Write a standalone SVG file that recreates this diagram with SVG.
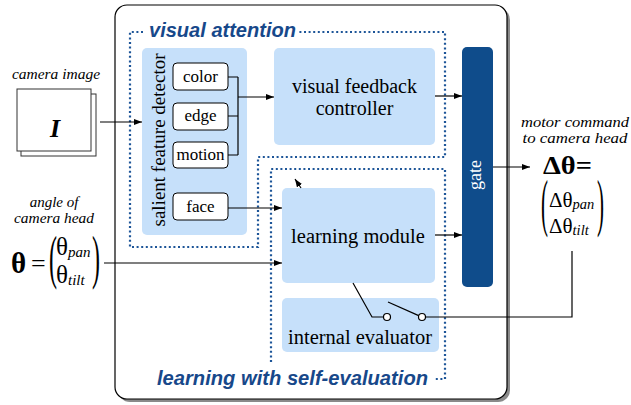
<svg xmlns="http://www.w3.org/2000/svg" width="631" height="405" viewBox="0 0 631 405">
<defs>
<marker id="arr" markerUnits="userSpaceOnUse" markerWidth="9" markerHeight="7" refX="8" refY="3" orient="auto">
<path d="M0,0 L8,3 L0,6 z" fill="#000"/>
</marker>
<style>
.serif{font-family:"Liberation Serif","Times New Roman",serif;fill:#000}
.it{font-style:italic}
.blk{fill:#c6e0fa}
.small{fill:#fff;stroke:#000;stroke-width:1}
.dot{fill:none;stroke:#1d5598;stroke-width:2.2;stroke-dasharray:2 2.6}
.title{font-family:"Liberation Sans",Arial,sans-serif;font-weight:bold;font-style:italic;fill:#17488a;font-size:20px}
.wire{fill:none;stroke:#000;stroke-width:1.2}
</style>
</defs>
<rect x="118" y="8" width="392" height="394" rx="12" fill="#8a8a8a"/>
<rect x="115" y="5" width="392" height="394" rx="12" fill="#fff" stroke="#000" stroke-width="1.2"/>

<g id="visual-attention">
<path class="dot" d="M143 32 H130 V247 H258 V157 H445 V32 H299"/>
<text class="title" x="149" y="37" textLength="147" lengthAdjust="spacingAndGlyphs">visual attention</text>
</g>
<g id="learning-self-eval">
<path class="dot" d="M271 362 V169 H445 V379 H434"/>
<text class="title" x="157" y="385" textLength="271" lengthAdjust="spacingAndGlyphs">learning with self-evaluation</text>
</g>

<g id="camera-image">
<text class="serif it" x="56" y="79" font-size="15.5" text-anchor="middle">camera image</text>
<rect x="21" y="94" width="75" height="62" fill="#fff" stroke="#333" stroke-width="1"/>
<rect x="17" y="89" width="74" height="62" fill="#fff" stroke="#333" stroke-width="1"/>
<text class="serif" x="55" y="137" font-size="26" font-weight="bold" font-style="italic" text-anchor="middle">I</text>
</g>

<g id="angle">
<text class="serif it" x="54" y="207" font-size="15" text-anchor="middle">angle of</text>
<text class="serif it" x="54" y="223" font-size="15" text-anchor="middle" textLength="80" lengthAdjust="spacingAndGlyphs">camera head</text>
<text class="serif" x="11" y="273" font-size="29" font-weight="bold">θ</text>
<text class="serif" x="31" y="272" font-size="26">=</text>
<text class="serif" transform="translate(49,276.5) scale(1,2.5)" font-size="24">(</text>
<text class="serif" x="56" y="255" font-size="25">θ<tspan class="it" font-size="15" dy="2">pan</tspan></text>
<text class="serif" x="56" y="283" font-size="25">θ<tspan class="it" font-size="15" dy="2">tilt</tspan></text>
<text class="serif" transform="translate(92,276.5) scale(1,2.5)" font-size="24">)</text>
</g>

<g id="motor-command">
<text class="serif it" x="575" y="127" font-size="15.5" text-anchor="middle" textLength="108" lengthAdjust="spacingAndGlyphs">motor command</text>
<text class="serif it" x="575" y="143" font-size="15.5" text-anchor="middle" textLength="105" lengthAdjust="spacingAndGlyphs">to camera head</text>
<text class="serif" x="543" y="174" font-size="25" font-weight="bold" textLength="49" lengthAdjust="spacingAndGlyphs">Δθ=</text>
<text class="serif" transform="translate(541,223.5) scale(1,3)" font-size="21">(</text>
<text class="serif" x="549" y="207" font-size="21">Δθ<tspan class="it" font-size="14.5" dy="2">pan</tspan></text>
<text class="serif" x="549" y="233" font-size="21">Δθ<tspan class="it" font-size="14.5" dy="2">tilt</tspan></text>
<text class="serif" transform="translate(597,223.5) scale(1,3)" font-size="21">)</text>
</g>

<g id="salient-feature-detector">
<rect class="blk" x="142" y="48" width="105" height="187" rx="5"/>
<text class="serif" transform="translate(165,140) rotate(-90)" font-size="19" text-anchor="middle">salient feature detector</text>
</g>
<g id="color">
<rect class="small" x="173" y="63" width="55" height="27" rx="4"/>
<text class="serif" x="200.5" y="82" font-size="17" text-anchor="middle">color</text>
</g>
<g id="edge">
<rect class="small" x="173" y="103" width="55" height="27" rx="4"/>
<text class="serif" x="200.5" y="121" font-size="17" text-anchor="middle">edge</text>
</g>
<g id="motion">
<rect class="small" x="173" y="142" width="55" height="26" rx="4"/>
<text class="serif" x="200.5" y="160" font-size="17" text-anchor="middle">motion</text>
</g>
<g id="face">
<rect class="small" x="173" y="193" width="55" height="27" rx="4"/>
<text class="serif" x="200.5" y="212" font-size="17" text-anchor="middle">face</text>
</g>

<g id="visual-feedback-controller">
<rect class="blk" x="274" y="48" width="161" height="97" rx="5"/>
<text class="serif" x="354.5" y="93" font-size="20" text-anchor="middle">visual feedback</text>
<text class="serif" x="354.5" y="115" font-size="20" text-anchor="middle">controller</text>
</g>

<g id="learning-module">
<rect class="blk" x="282" y="188" width="153" height="95" rx="5"/>
<text class="serif" x="358" y="243" font-size="20.5" text-anchor="middle">learning module</text>
</g>

<g id="internal-evaluator">
<rect class="blk" x="282" y="298" width="157" height="54" rx="5"/>
<text class="serif" x="360" y="344" font-size="20.5" text-anchor="middle">internal evaluator</text>
</g>

<g id="gate">
<rect x="462" y="47" width="31" height="240" rx="5" fill="#0f4c8b"/>
<text transform="translate(481,175) rotate(-90)" font-family="Liberation Serif, serif" font-size="18" fill="#fff" text-anchor="middle">gate</text>
</g>

<g id="connectors">
<line class="wire" x1="100" y1="122" x2="142" y2="122" marker-end="url(#arr)"/>
<path class="wire" d="M228 77 H238 M228 116 H238 M228 155 H238 M238 77 V155"/>
<line class="wire" x1="238" y1="97" x2="274" y2="97" marker-end="url(#arr)"/>
<line class="wire" x1="435" y1="96" x2="462" y2="96" marker-end="url(#arr)"/>
<line class="wire" x1="228" y1="208" x2="282" y2="208" marker-end="url(#arr)"/>
<line class="wire" x1="104" y1="263" x2="282" y2="263" marker-end="url(#arr)"/>
<line class="wire" x1="435" y1="235" x2="462" y2="235" marker-end="url(#arr)"/>
<line class="wire" x1="493" y1="167" x2="530" y2="167" marker-end="url(#arr)"/>
<line class="wire" x1="301" y1="188" x2="295" y2="179" marker-end="url(#arr)"/>
<path class="wire" d="M353 283 L372 317 H383.5"/>
<path class="wire" d="M388 302 L418.7 315.6"/>
<path class="wire" d="M425.5 317 H572 V251"/>
<circle cx="387" cy="317" r="3.5" fill="#fff" stroke="#000" stroke-width="1.2"/>
<circle cx="422" cy="317" r="3.5" fill="#fff" stroke="#000" stroke-width="1.2"/>
</g>
</svg>
